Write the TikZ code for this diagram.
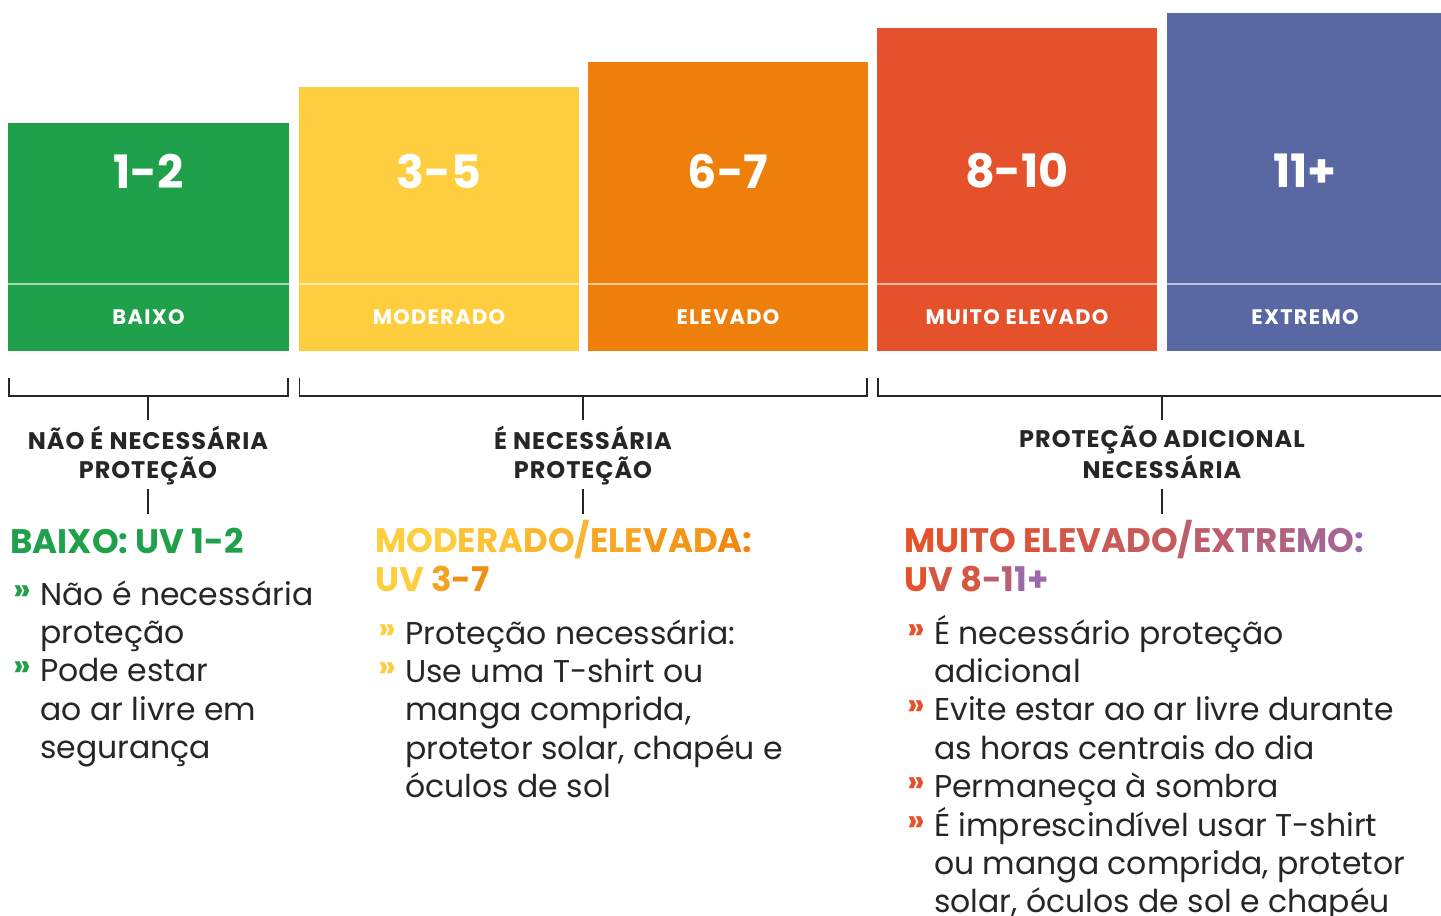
\documentclass[tikz,border=0pt]{standalone}
\usepackage{fontspec}
\setmainfont{Poppins}
\usetikzlibrary{positioning}

\definecolor{uvgreen}{HTML}{1FA04A}
\definecolor{uvyellow}{HTML}{FECE3E}
\definecolor{uvorange}{HTML}{EE7F0B}
\definecolor{uvred}{HTML}{E4512A}
\definecolor{uvblue}{HTML}{5968A3}
\definecolor{uvpurple}{HTML}{9A69A9}
\definecolor{inktext}{HTML}{262626}

\tikzset{
  rangenum/.style={text=white, font=\bfseries\fontsize{46}{46}\selectfont, inner sep=0pt},
  levelname/.style={text=white, font=\bfseries\fontsize{21}{21}\selectfont\addfontfeature{LetterSpace=6}, inner sep=0pt},
  splitline/.style={white, opacity=0.6, line width=1.5pt},
  bracketline/.style={inktext, line width=1.3pt},
  advice/.style={text=inktext, font=\bfseries\fontsize{24}{29}\selectfont\addfontfeature{LetterSpace=4}, align=center, anchor=base, inner sep=0pt},
  heading/.style={font=\bfseries\fontsize{34}{38.4}\selectfont, anchor=base west, inner sep=0pt, align=left},
  bodytext/.style={text=inktext, font=\fontsize{31.5}{38.4}\selectfont, anchor=base west, inner sep=0pt, align=left},
}
\newcommand{\uvbullet}[1]{\llap{\textcolor{#1}{\bfseries\raisebox{5pt}{»}}\hspace{9pt}}}

\begin{document}
\begin{tikzpicture}[x=1pt,y=-1pt]

  \useasboundingbox (0,0) rectangle (1441,916);

  % scale blocks
  \fill[uvgreen] (8,123) rectangle (289,351);
  \draw[splitline] (8,284) -- (289,284);
  \node[rangenum] (n12) at (148.5,171) {1-2};
  \node[levelname] (baixo) at (148.5,317) {BAIXO};

  \fill[uvyellow] (299,87) rectangle (579,351);
  \draw[splitline] (299,284) -- (579,284);
  \node[rangenum] (n35) at (439,171) {3-5};
  \node[levelname] (moderado) at (439,317) {MODERADO};

  \fill[uvorange] (588,62) rectangle (868,351);
  \draw[splitline] (588,284) -- (868,284);
  \node[rangenum] (n67) at (728,171) {6-7};
  \node[levelname] (elevado) at (728,317) {ELEVADO};

  \fill[uvred] (877,28) rectangle (1157,351);
  \draw[splitline] (877,284) -- (1157,284);
  \node[rangenum] (n810) at (1017,171) {8-10};
  \node[levelname] (muito) at (1017,317) {MUITO ELEVADO};

  \fill[uvblue] (1167,13) rectangle (1441,351);
  \draw[splitline] (1167,284) -- (1441,284);
  \node[rangenum] (n11) at (1305,171) {11+};
  \node[levelname] (extremo) at (1305,317) {EXTREMO};

  % brackets
  \coordinate (bra) at (148,396);
  \coordinate (brb) at (583,396);
  \coordinate (brc) at (1162,396);
  \draw[bracketline] (9,378) -- (9,396) -- (288,396) -- (288,378);
  \draw[bracketline] (299.5,378) -- (299.5,396) -- (867,396) -- (867,378);
  \draw[bracketline] (878,378) -- (878,396) -- (1441,396);

  % advice labels (anchored on the last line)
  \node[advice] (adva) at (148,478) {NÃO É NECESSÁRIA\\PROTEÇÃO};
  \node[advice] (advb) at (583,478) {É NECESSÁRIA\\PROTEÇÃO};
  \node[advice] (advc) at (1162,478) {PROTEÇÃO ADICIONAL\\NECESSÁRIA};

  \coordinate (topa) at (148,420);
  \coordinate (topb) at (583,420);
  \coordinate (topc) at (1162,420);
  \coordinate (lowa) at (148,489);
  \coordinate (lowb) at (583,489);
  \coordinate (lowc) at (1162,489);
  \coordinate (enda) at (148,514);
  \coordinate (endb) at (583,514);
  \coordinate (endc) at (1162,514);
  \draw[bracketline] (bra) -- (topa);
  \draw[bracketline] (brb) -- (topb);
  \draw[bracketline] (brc) -- (topc);
  \draw[bracketline] (lowa) -- (enda);
  \draw[bracketline] (lowb) -- (endb);
  \draw[bracketline] (lowc) -- (endc);

  % headings (anchored on the last line)
  \node[heading, text=uvgreen] (heada) at (10,553) {BAIXO: UV 1-2};
  \node[heading] (headb) at (375,591) {%
    {\color{uvyellow}MOD}{\color{uvyellow!85!uvorange}ERA}{\color{uvyellow!70!uvorange}DO/}%
    {\color{uvyellow!50!uvorange}ELE}{\color{uvyellow!30!uvorange}VAD}{\color{uvyellow!10!uvorange}A:}\\
    {\color{uvyellow}UV }{\color{uvyellow!45!uvorange}3}{\color{uvyellow!20!uvorange}-7}};
  \node[heading] (headc) at (904,591) {%
    {\color{uvred}MUI}{\color{uvred!88!uvpurple}TO E}{\color{uvred!75!uvpurple}LEV}%
    {\color{uvred!62!uvpurple}ADO}{\color{uvred!48!uvpurple}/EX}{\color{uvred!34!uvpurple}TRE}%
    {\color{uvred!18!uvpurple}MO}{\color{uvpurple}:}\\
    {\color{uvred}U}{\color{uvred!80!uvpurple}V 8}{\color{uvred!45!uvpurple}-1}{\color{uvpurple}1+}};

  % advice lists (anchored on the last line)
  \node[bodytext] (lista) at (40,758.6) {%
    \uvbullet{uvgreen}Não é necessária\\
    proteção\\
    \uvbullet{uvgreen}Pode estar\\
    ao ar livre em\\
    segurança};
  \node[bodytext] (listb) at (405,797.6) {%
    \uvbullet{uvyellow}Proteção necessária:\\
    \uvbullet{uvyellow}Use uma T-shirt ou\\
    manga comprida,\\
    protetor solar, chapéu e\\
    óculos de sol};
  \node[bodytext] (listc) at (934,912.8) {%
    \uvbullet{uvred}É necessário proteção\\
    adicional\\
    \uvbullet{uvred}Evite estar ao ar livre durante\\
    as horas centrais do dia\\
    \uvbullet{uvred}Permaneça à sombra\\
    \uvbullet{uvred}É imprescindível usar T-shirt\\
    ou manga comprida, protetor\\
    solar, óculos de sol e chapéu};

\end{tikzpicture}
\end{document}
